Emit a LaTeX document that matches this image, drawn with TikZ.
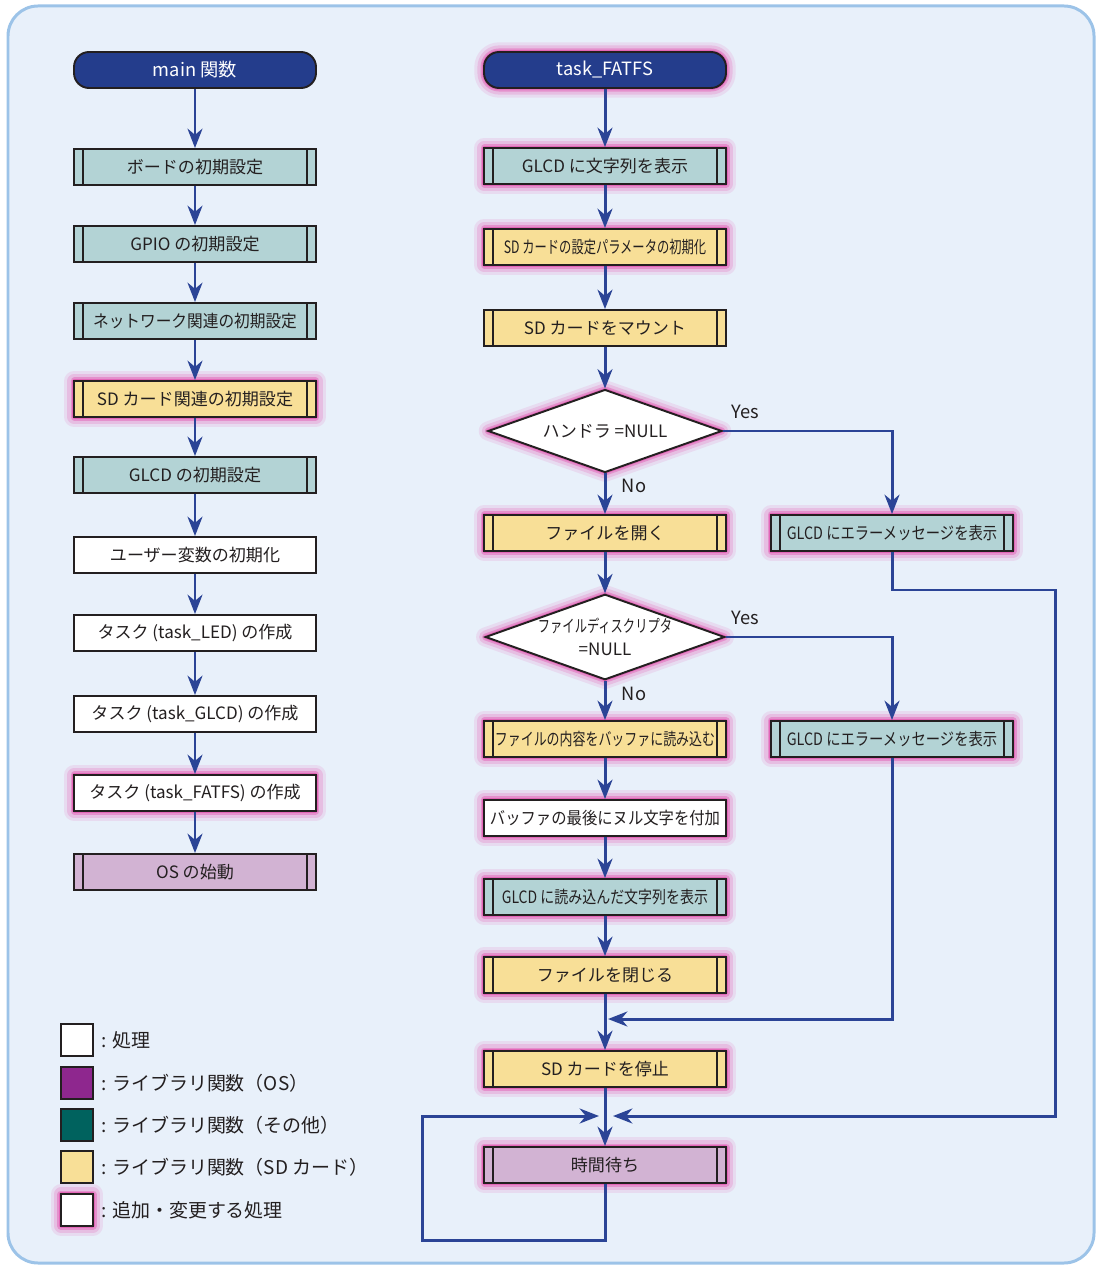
\documentclass[tikz,border=0pt]{standalone}
\usepackage{graphicx}
\usepackage{fontspec}
\setmainfont{Noto Sans CJK JP}
\usetikzlibrary{arrows.meta,shapes.geometric}
\definecolor{bgblue}{HTML}{E8F0FA}
\definecolor{frameblue}{HTML}{9CC3E8}
\definecolor{navy}{HTML}{243D8C}
\definecolor{linkblue}{HTML}{2B4496}
\definecolor{libteal}{HTML}{B3D3D5}
\definecolor{libyellow}{HTML}{F8DF97}
\definecolor{libpurple}{HTML}{D2B3D3}
\definecolor{inkgray}{HTML}{231F20}
\definecolor{glowpink}{HTML}{E2289A}
\definecolor{keypurple}{HTML}{8E278E}
\definecolor{keyteal}{HTML}{00625E}
\newcommand{\sqz}[2]{\scalebox{#1}[1]{#2}}
\tikzstyle{every node}=[text=inkgray,font=\fontsize{9.7pt}{12pt}\selectfont]
\tikzstyle{box}=[draw=inkgray,line width=1.1pt,fill=white,minimum width=4.84cm,minimum height=0.72cm,inner sep=1pt]
\tikzstyle{sub}=[box,path picture={
  \draw[inkgray,line width=1.1pt]
    ([xshift=0.18cm]path picture bounding box.north west) -- ([xshift=0.18cm]path picture bounding box.south west)
    ([xshift=-0.18cm]path picture bounding box.north east) -- ([xshift=-0.18cm]path picture bounding box.south east);}]
\tikzstyle{other}=[sub,fill=libteal]
\tikzstyle{sd}=[sub,fill=libyellow]
\tikzstyle{os}=[sub,fill=libpurple]
\tikzstyle{start}=[box,fill=navy,text=white,rounded corners=0.3cm,font=\fontsize{10.4pt}{12pt}\selectfont]
\tikzstyle{test}=[diamond,draw=inkgray,line width=1.1pt,fill=white,minimum width=4.68cm,minimum height=1.66cm,aspect=2.8,inner sep=0pt,
  font=\fontsize{9.7pt}{13pt}\selectfont]
\tikzstyle{changed}=[preaction={draw=glowpink,line width=11pt,opacity=0.1,line join=round},
  preaction={draw=glowpink,line width=7.5pt,opacity=0.16,line join=round},
  preaction={draw=glowpink,line width=4pt,opacity=0.3,line join=round},
  preaction={draw=glowpink,line width=2pt,opacity=0.4,line join=round}]
\tikzstyle{flow}=[draw=linkblue,line width=1.7pt,-{Stealth[length=11pt,width=8.5pt,inset=3.5pt]}]
\tikzstyle{answer}=[font=\fontsize{10.4pt}{12pt}\selectfont]
\tikzstyle{key}=[draw=inkgray,line width=1.1pt,minimum size=0.64cm,inner sep=0pt]
\tikzstyle{keytext}=[anchor=west,font=\fontsize{10.8pt}{13pt}\selectfont]

\begin{document}
\begin{tikzpicture}[x=0.02cm,y=-0.02cm]
  \useasboundingbox (0,0) rectangle (1097,1266);
  \fill[bgblue,draw=frameblue,line width=1.7pt,rounded corners=0.6cm] (8,6) rectangle (1094,1263);

  \node[start] (main) at (195,70) {main 関数};
  \node[other] (board) at (195,167) {ボードの初期設定};
  \node[other] (gpio) at (195,244) {GPIO の初期設定};
  \node[other] (net) at (195,321) {\sqz{0.92}{ネットワーク関連の初期設定}};
  \node[sd,changed] (sdinit) at (195,399) {SD カード関連の初期設定};
  \node[other] (glcdinit) at (195,475) {GLCD の初期設定};
  \node[box] (uvar) at (195,555) {ユーザー変数の初期化};
  \node[box] (tled) at (195,633) {タスク (task\_LED) の作成};
  \node[box] (tglcd) at (195,714) {タスク (task\_GLCD) の作成};
  \node[box,changed] (tfatfs) at (195,793) {タスク (task\_FATFS) の作成};
  \node[os] (osstart) at (195,872) {OS の始動};

  \draw[flow] (main) -- (board);
  \draw[flow] (board) -- (gpio);
  \draw[flow] (gpio) -- (net);
  \draw[flow] (net) -- (sdinit);
  \draw[flow] (sdinit) -- (glcdinit);
  \draw[flow] (glcdinit) -- (uvar);
  \draw[flow] (uvar) -- (tled);
  \draw[flow] (tled) -- (tglcd);
  \draw[flow] (tglcd) -- (tfatfs);
  \draw[flow] (tfatfs) -- (osstart);

  \node[start,changed] (fatfs) at (605,70) {task\_FATFS};
  \node[other,changed] (msg) at (605,166) {GLCD に文字列を表示};
  \node[sd,changed] (sdparam) at (605,247) {\sqz{0.72}{SD カードの設定パラメータの初期化}};
  \node[sd] (mount) at (605,328) {SD カードをマウント};
  \node[test,changed] (hnull) at (605,431) {ハンドラ =NULL};
  \node[sd,changed] (fopen) at (605,533) {ファイルを開く};
  \node[other,changed] (err1) at (892,533) {\sqz{0.84}{GLCD にエラーメッセージを表示}};
  \node[test,changed,align=center] (fdnull) at (605,637) {\sqz{0.72}{ファイルディスクリプタ}\\=NULL};
  \node[sd,changed] (fread) at (605,739) {\sqz{0.76}{ファイルの内容をバッファに読み込む}};
  \node[other,changed] (err2) at (892,739) {\sqz{0.84}{GLCD にエラーメッセージを表示}};
  \node[box,changed] (nulladd) at (605,818) {\sqz{0.9}{バッファの最後にヌル文字を付加}};
  \node[other,changed] (show) at (605,897) {\sqz{0.82}{GLCD に読み込んだ文字列を表示}};
  \node[sd,changed] (fclose) at (605,975) {ファイルを閉じる};
  \node[sd,changed] (sdstop) at (605,1069) {SD カードを停止};
  \node[os,changed] (wait) at (605,1165) {時間待ち};

  \coordinate (in1) at (608,1019);
  \coordinate (in2r) at (613,1116);
  \coordinate (in2l) at (599,1116);
  \coordinate (bend1) at (1055,590);
  \coordinate (bend2) at (422,1240);

  \draw[flow] (fatfs) -- (msg);
  \draw[flow] (msg) -- (sdparam);
  \draw[flow] (sdparam) -- (mount);
  \draw[flow] (mount) -- (hnull);
  \draw[flow] (hnull) -- (fopen);
  \draw[flow] (hnull.east) -| (err1.north);
  \draw[flow] (fopen) -- (fdnull.north);
  \draw[flow] (fdnull.south) -- (fread);
  \draw[flow] (fdnull.east) -| (err2.north);
  \draw[flow] (fread) -- (nulladd);
  \draw[flow] (nulladd) -- (show);
  \draw[flow] (show) -- (fclose);
  \draw[flow] (fclose) -- (sdstop);
  \draw[flow] (sdstop) -- (wait);
  \draw[flow] (err2.south) |- (in1);
  \draw[flow] (err1.south) |- (bend1) |- (in2r);
  \draw[flow] (wait.south) |- (bend2) |- (in2l);

  \node[answer] (yes1) at (745,412) {Yes};
  \node[answer] (no1) at (634,486) {No};
  \node[answer] (yes2) at (745,618) {Yes};
  \node[answer] (no2) at (634,694) {No};

  \node[key,fill=white] (k1) at (77,1040) {};
  \node[key,fill=keypurple] (k2) at (77,1083) {};
  \node[key,fill=keyteal] (k3) at (77,1125) {};
  \node[key,fill=libyellow] (k4) at (77,1167) {};
  \node[key,fill=white,changed] (k5) at (77,1210) {};
  \node[keytext] at (95,1040) {: 処理};
  \node[keytext] at (95,1083) {: ライブラリ関数（OS）};
  \node[keytext] at (95,1125) {: ライブラリ関数（その他）};
  \node[keytext] at (95,1167) {: ライブラリ関数（SD カード）};
  \node[keytext] at (95,1210) {: 追加・変更する処理};
\end{tikzpicture}
\end{document}
